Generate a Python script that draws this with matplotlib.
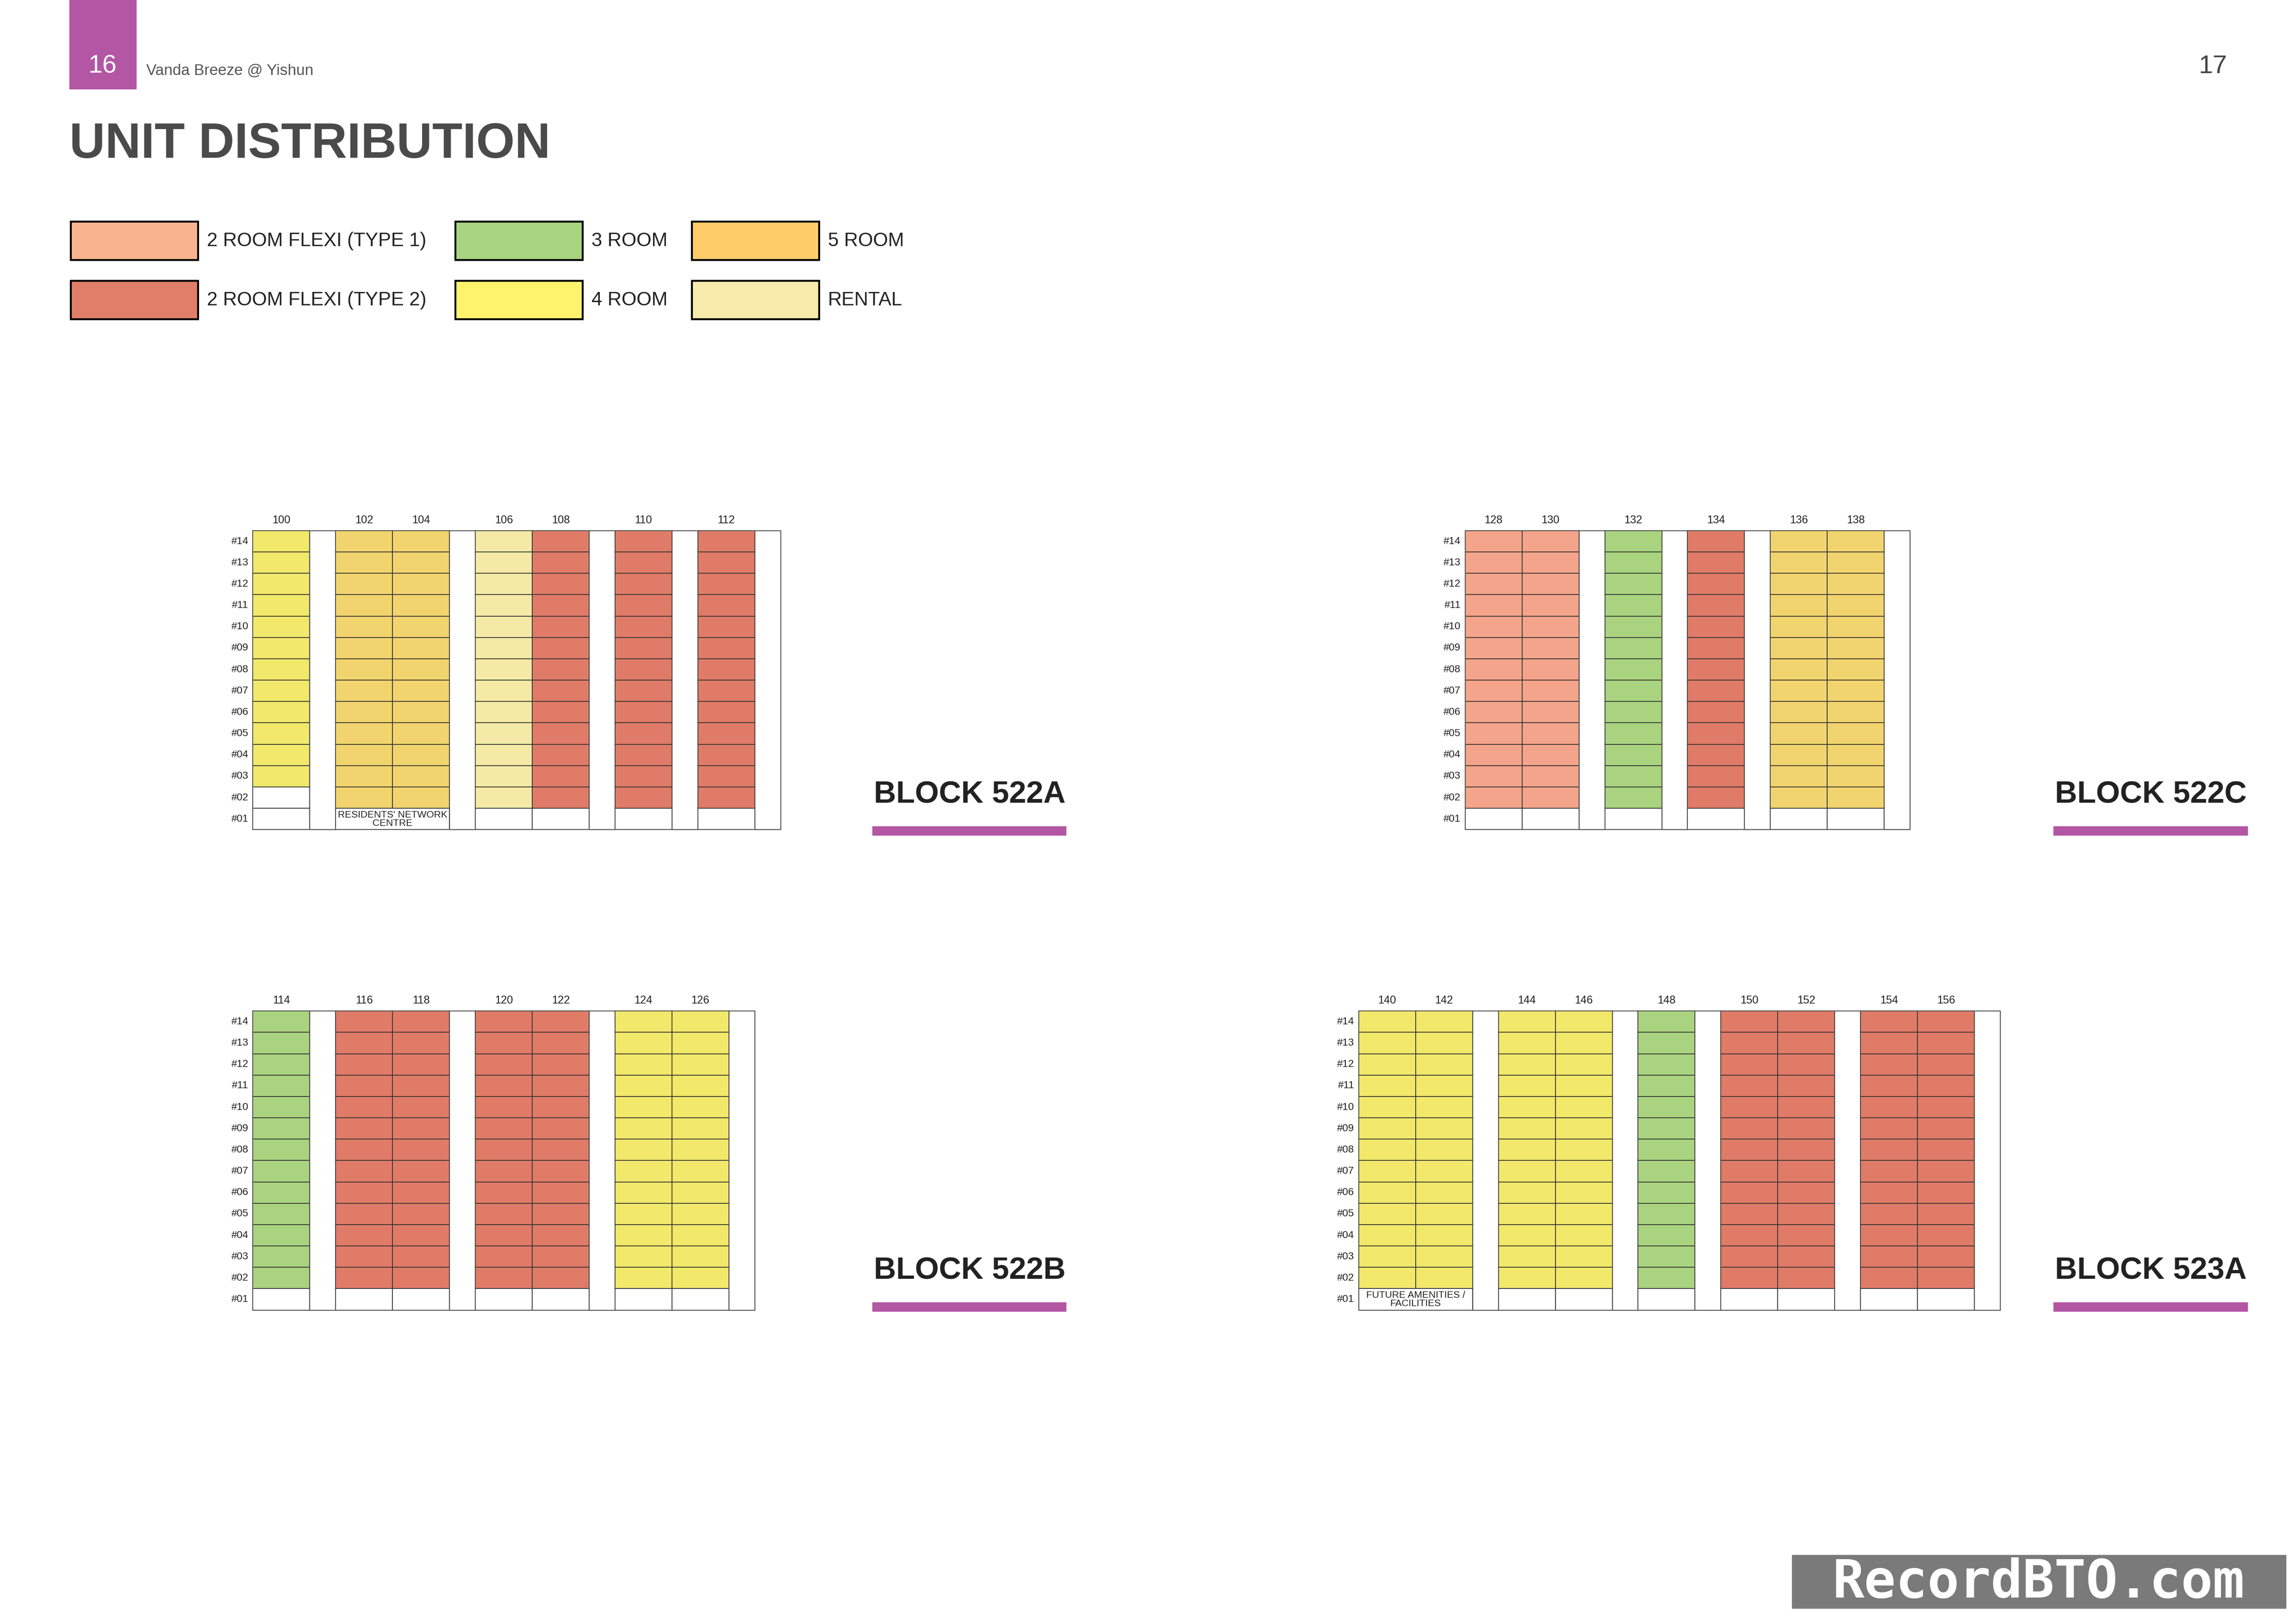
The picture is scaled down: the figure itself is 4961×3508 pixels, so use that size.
import matplotlib
matplotlib.use("Agg")
import matplotlib.pyplot as plt
from matplotlib.patches import Rectangle

plt.rcParams["font.family"] = "Liberation Sans"

# unit type colours
colours = {
    "T1": "#f4a48a", "T2": "#e07b68", "3R": "#a9d37f",
    "4R": "#f2e86a", "5R": "#f2d46e", "RE": "#f5eaa5",
}
legend_colours = {
    "T1": "#f9b48f", "T2": "#e07e6a", "3R": "#a8d480",
    "4R": "#fff36e", "5R": "#fecd6a", "RE": "#f7eaaa",
}
legend_labels = {
    "T1": "2 ROOM FLEXI (TYPE 1)", "T2": "2 ROOM FLEXI (TYPE 2)", "3R": "3 ROOM",
    "4R": "4 ROOM", "5R": "5 ROOM", "RE": "RENTAL",
}
legend_order = [["T1", "3R", "5R"], ["T2", "4R", "RE"]]

floors = ["#14", "#13", "#12", "#11", "#10", "#09", "#08", "#07",
          "#06", "#05", "#04", "#03", "#02", "#01"]

# per block: unit numbers (None = void deck gap), unit type, lowest residential floor
blk_522a_units = [100, None, 102, 104, None, 106, 108, None, 110, None, 112, None]
blk_522a_types = ["4R", None, "5R", "5R", None, "RE", "T2", None, "T2", None, "T2", None]
blk_522a_low = [3, 0, 2, 2, 0, 2, 2, 0, 2, 0, 2, 0]

blk_522c_units = [128, 130, None, 132, None, 134, None, 136, 138, None]
blk_522c_types = ["T1", "T1", None, "3R", None, "T2", None, "5R", "5R", None]
blk_522c_low = [2, 2, 0, 2, 0, 2, 0, 2, 2, 0]

blk_522b_units = [114, None, 116, 118, None, 120, 122, None, 124, 126, None]
blk_522b_types = ["3R", None, "T2", "T2", None, "T2", "T2", None, "4R", "4R", None]
blk_522b_low = [2, 0, 2, 2, 0, 2, 2, 0, 2, 2, 0]

blk_523a_units = [140, 142, None, 144, 146, None, 148, None, 150, 152, None, 154, 156, None]
blk_523a_types = ["4R", "4R", None, "4R", "4R", None, "3R", None, "T2", "T2", None, "T2", "T2", None]
blk_523a_low = [2, 2, 0, 2, 2, 0, 2, 0, 2, 2, 0, 2, 2, 0]

blocks = [
    ("BLOCK 522A", blk_522a_units, blk_522a_types, blk_522a_low, (171, 359), (2, 3, "RESIDENTS' NETWORK\nCENTRE")),
    ("BLOCK 522C", blk_522c_units, blk_522c_types, blk_522c_low, (991, 359), None),
    ("BLOCK 522B", blk_522b_units, blk_522b_types, blk_522b_low, (171, 684), None),
    ("BLOCK 523A", blk_523a_units, blk_523a_types, blk_523a_low, (919, 684), (0, 1, "FUTURE AMENITIES /\nFACILITIES")),
]
label_pos = [(591, 538), (1390, 538), (591, 860), (1390, 860)]

MAGENTA = "#b356a3"
COL_W, GAP_W, ROW_H = 38.5, 17.5, 14.45

fig = plt.figure(figsize=(49.61, 35.08), dpi=100)
ax = fig.add_axes([0, 0, 1, 1])
ax.set_xlim(0, 1553)
ax.set_ylim(1098, 0)
ax.axis("off")

# header
ax.add_patch(Rectangle((47, 0), 45, 60, color=MAGENTA))
ax.text(69.5, 45, "16", color="white", fontsize=40, ha="center", va="center")
ax.text(99, 48, "Vanda Breeze @ Yishun", color="#555555", fontsize=24, va="center")
ax.text(1497, 45, "17", color="#444444", fontsize=40, ha="center", va="center")
ax.text(47, 98, "UNIT DISTRIBUTION", color="#4a4a4a", fontsize=77, fontweight="bold", va="center")

# legend
legend_x = [48, 308, 468]
for r, row in enumerate(legend_order):
    for c, key in enumerate(row):
        x0, y0 = legend_x[c], 150 + r * 40
        ax.add_patch(Rectangle((x0, y0), 86, 26, facecolor=legend_colours[key], edgecolor="black", lw=3))
        ax.text(x0 + 92, y0 + 13, legend_labels[key], fontsize=30, va="center", color="#222222")

for (name, units, types, low, (bx, by), merged), (lx, ly) in zip(blocks, label_pos):
    x = bx
    for i, (u, t, lo) in enumerate(zip(units, types, low)):
        w = COL_W if u is not None else GAP_W
        if u is not None:
            ax.text(x + w / 2, by - 7, str(u), fontsize=17, ha="center", va="center", color="#222222")
            for fi, fl in enumerate(floors):
                n = 14 - fi
                y = by + fi * ROW_H
                filled = n >= lo and n >= 2
                if merged and n == 1 and merged[0] <= i <= merged[1]:
                    continue
                ax.add_patch(Rectangle((x, y), w, ROW_H, facecolor=colours[t] if filled else "white",
                                       edgecolor="#333333", lw=1.2))
        else:
            ax.add_patch(Rectangle((x, by), w, 14 * ROW_H, facecolor="white", edgecolor="#555555", lw=1.0))
        x += w
    total_w = x - bx
    # merged ground-floor cell
    if merged:
        mx = bx + sum(COL_W if u is not None else GAP_W for u in units[:merged[0]])
        mw = sum(COL_W if u is not None else GAP_W for u in units[merged[0]:merged[1] + 1])
        my = by + 13 * ROW_H
        ax.add_patch(Rectangle((mx, my), mw, ROW_H, facecolor="white", edgecolor="#333333", lw=1.2))
        ax.text(mx + mw / 2, my + ROW_H / 2, merged[2], fontsize=15, ha="center", va="center",
                color="#222222", linespacing=0.95)
    ax.add_patch(Rectangle((bx, by), total_w, 14 * ROW_H, fill=False, edgecolor="#555555", lw=1.2))
    for fi, fl in enumerate(floors):
        ax.text(bx - 3, by + (fi + 0.5) * ROW_H, fl, fontsize=16, ha="right", va="center", color="#222222")
    # block title
    ax.text(lx, ly, name, fontsize=48, fontweight="bold", va="center", color="#222222")
    ax.add_patch(Rectangle((lx - 1, ly + 21), 131, 6, color=MAGENTA))

# watermark
ax.add_patch(Rectangle((1212, 1052), 334, 36, color="#7a7a7a"))
ax.text(1379, 1071, "RecordBTO.com", fontsize=82, fontweight="bold", family="DejaVu Sans Mono",
        ha="center", va="center", color="white")

fig.savefig("out.png", dpi=100, facecolor="white")
